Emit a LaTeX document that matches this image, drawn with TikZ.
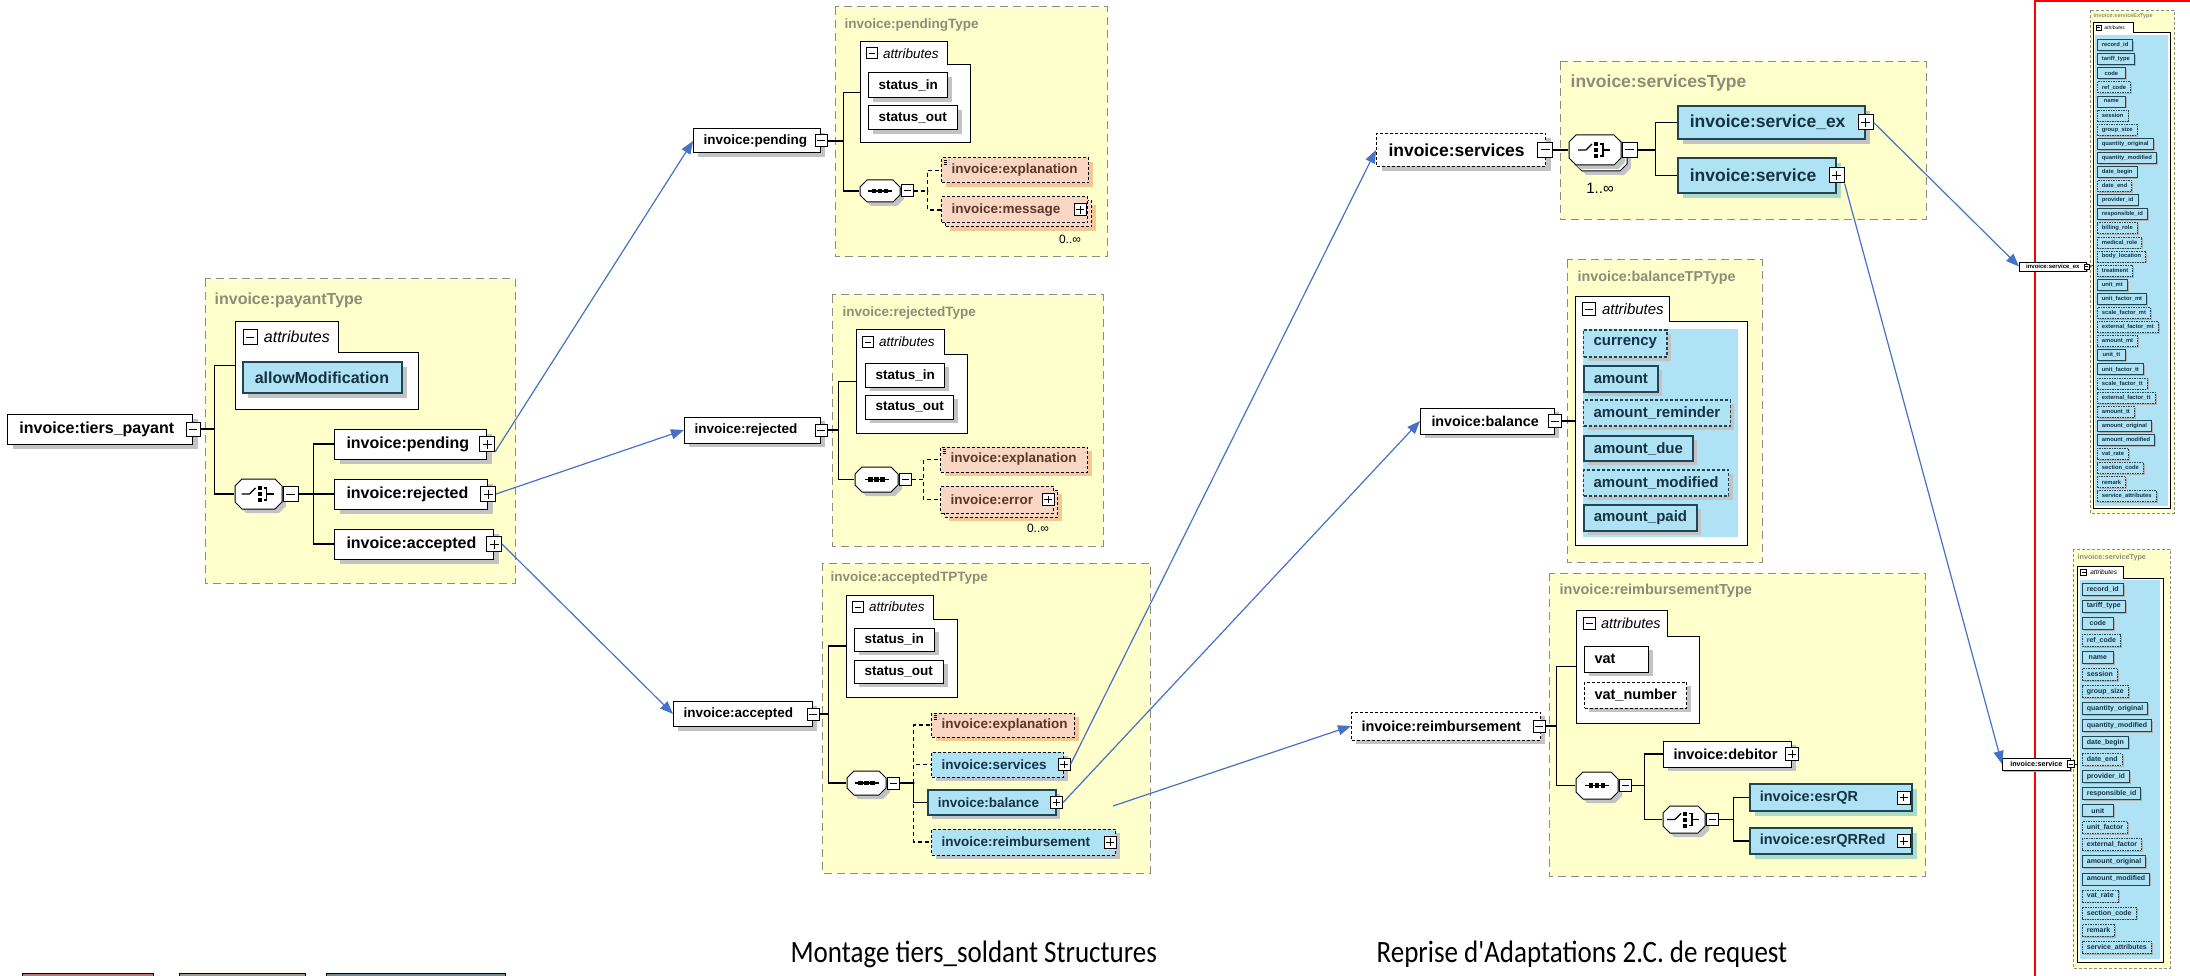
\documentclass[tikz,border=0pt]{standalone}
\usepackage{fontspec}
\setmainfont{Liberation Sans}
\newfontfamily\capfont{Carlito}
\usetikzlibrary{arrows.meta,shadows}

\definecolor{panelfill}{RGB}{255,255,204}
\definecolor{panelline}{RGB}{140,140,130}
\definecolor{paneltext}{RGB}{140,140,120}
\definecolor{elblue}{RGB}{174,226,244}
\definecolor{blueline}{RGB}{30,70,85}
\definecolor{bluetext}{RGB}{20,50,65}
\definecolor{elsalmon}{RGB}{250,214,196}
\definecolor{salmonshadow}{RGB}{244,200,150}
\definecolor{salmontext}{RGB}{90,55,40}
\definecolor{greenshadow}{RGB}{170,220,200}
\definecolor{shadowgray}{RGB}{195,195,195}
\definecolor{linkblue}{RGB}{68,114,196}

\newcommand{\fs}[1]{\fontsize{#1}{#1}\selectfont}
% attribute folder: name, x1, y1, tab x, tab y, x2, y2, font size, minus size
\newcommand{\attrfolder}[9]{%
  \draw[fill=white, line width=1pt] (#2,#3) -- (#4,#3) -- (#4,#5) -- (#6,#5) -- (#6,#7) -- (#2,#7) -- cycle;
  \node[pmminus=#9pt, anchor=west] (#1m) at ({#2+0.55*#9},{(#3+#5)/2}) {};
  \node[anchor=west, inner sep=0pt, font=\itshape\fs{#8}] (#1t) at ([xshift={0.4*#9pt}]#1m.east) {attributes};
  \coordinate (#1) at (#2,{(#3+#7)/2});
}
% compositor octagon: name, x, y, width, height, symbol
\newcommand{\compo}[6]{%
  \draw[fill=white, line width=1pt, shd=4pt] ({#2-#4/2+7},{#3-#5/2}) -- ({#2+#4/2-7},{#3-#5/2})
    -- ({#2+#4/2},{#3-#5/2+7}) -- ({#2+#4/2},{#3+#5/2-7}) -- ({#2+#4/2-7},{#3+#5/2})
    -- ({#2-#4/2+7},{#3+#5/2}) -- ({#2-#4/2},{#3+#5/2-7}) -- ({#2-#4/2},{#3-#5/2+7}) -- cycle;
  \node[minimum width=#4pt, minimum height=#5pt, inner sep=0pt] (#1) at (#2,#3) {};
  \begin{scope}[shift={(#2,#3)}] #6 \end{scope}
}
\newcommand{\symseq}{%
  \draw[line width=1.2pt] (-12,0) -- (12,0);
  \foreach \d in {-6,0,6} \fill ({\d-2.2},-2.2) rectangle ({\d+2.2},2.2);
}
\newcommand{\symchoice}{%
  \draw[line width=1.2pt] (-17,0) -- (-9,0) -- (-3,-6);
  \foreach \d in {-6,0,6} \fill (-1,{\d-2}) rectangle (3,{\d+2});
  \draw[line width=1.2pt] (5,-6) -- (8,-6) -- (8,6) -- (5,6);
  \draw[line width=1.2pt] (8,0) -- (15,0);
}

\begin{document}
\begin{tikzpicture}[x=1pt, y=-1pt, line width=1.3pt,
  panel/.style={draw=panelline, fill=panelfill, dash pattern=on 8pt off 5pt, line width=1pt},
  smallpanel/.style={panel, dash pattern=on 3pt off 2pt, line width=0.6pt},
  ptitle/.style={anchor=west, inner sep=0pt, text=paneltext, font=\bfseries\fs{#1}},
  el/.style={draw, fill=white, anchor=west, line width=1pt, inner ysep=0pt, inner xsep=10pt, align=left},
  big/.style={inner xsep=12pt},
  f/.style={font=\bfseries\fs{#1}},
  shd/.style={drop shadow={shadow xshift=#1, shadow yshift=-#1, fill=shadowgray, opacity=1}},
  shd/.default=5pt,
  shdo/.style={drop shadow={shadow xshift=#1, shadow yshift=-#1, fill=salmonshadow, opacity=1}},
  shdo/.default=5pt,
  shdg/.style={drop shadow={shadow xshift=#1, shadow yshift=-#1, fill=greenshadow, opacity=1}},
  shdg/.default=5pt,
  optel/.style={dash pattern=on 3pt off 2pt},
  optline/.style={dash pattern=on 4pt off 3pt},
  blueel/.style={fill=elblue, draw=blueline, text=bluetext, line width=1.6pt},
  salmonel/.style={fill=elsalmon, text=salmontext, optel},
  simpleicon/.style={path picture={
    \foreach \k in {2,4,6}
      \draw[line width=0.6pt] ([shift={(2pt,-\k pt)}]path picture bounding box.north west) -- ++(5pt,0);}},
  att/.style={el},
  m0/.style={},
  m1/.style={dash pattern=on 1.5pt off 1pt},
  tinyatt/.style={el, fill=elblue, draw=blueline, text=bluetext, line width=0.7pt, inner xsep=4.5pt,
    drop shadow={shadow xshift=1.5pt, shadow yshift=-1.5pt, fill=black!30, opacity=1}},
  pmminus/.style={draw, fill=white, line width=1pt, inner sep=0pt, minimum size=#1,
    path picture={\draw[line width=1pt] ([xshift={0.2*#1}]path picture bounding box.west) -- ([xshift={-0.2*#1}]path picture bounding box.east);}},
  pmminus/.default=13pt,
  pmplus/.style={draw, fill=white, line width=1pt, inner sep=0pt, minimum size=#1,
    path picture={\draw[line width=1pt] ([xshift={0.2*#1}]path picture bounding box.west) -- ([xshift={-0.2*#1}]path picture bounding box.east);
      \draw[line width=1pt] ([yshift={-0.2*#1}]path picture bounding box.north) -- ([yshift={0.2*#1}]path picture bounding box.south);}},
  pmplus/.default=13pt,
  link/.style={linkblue, line width=1.2pt, -{Triangle[length=13pt, width=10pt]}}]

\useasboundingbox (0,0) rectangle (2190,976);

% ---- payant type
\draw[panel] (205,279) rectangle (515,583);
\node[ptitle=16] (payT) at (214,300) {invoice:payantType};
\node[el, big, shd, f=16, text width=161pt, minimum height=30pt] (tiers) at (7,429) {invoice:tiers\_payant};
\node[pmminus=14pt] (tiersX) at (tiers.east) {};
\attrfolder{payA}{235}{322}{338}{352}{418}{409}{16}{14}
\node[el, big, blueel, shd, f=16, text width=135pt, minimum height=31pt] (allowMod) at (242,377.5) {allowModification};
\compo{payC}{258.5}{494}{47}{30}{\symchoice}
\node[pmminus=15pt, anchor=west] (payCX) at (payC.east) {};
\node[el, big, shd, f=16, text width=128pt, minimum height=30pt] (payPend) at (334,444) {invoice:pending};
\node[pmplus=15pt] (payPendX) at (payPend.east) {};
\node[el, big, shd, f=16, text width=129pt, minimum height=30pt] (payRej) at (334,494) {invoice:rejected};
\node[pmplus=15pt] (payRejX) at (payRej.east) {};
\node[el, big, shd, f=16, text width=135pt, minimum height=30pt] (payAcc) at (334,544) {invoice:accepted};
\node[pmplus=15pt] (payAccX) at (payAcc.east) {};
\draw (tiersX.east) -- ++(14,0) |- (payA);
\draw (tiersX.east) -- ++(14,0) |- (payC.west);
\draw (payCX.east) -- ++(15,0) |- (payPend.west);
\draw (payCX.east) -- ++(15,0) |- (payRej.west);
\draw (payCX.east) -- ++(15,0) |- (payAcc.west);

% ---- pending type
\draw[panel] (835,7) rectangle (1107,257);
\node[ptitle=13.5] (pendT) at (844,25) {invoice:pendingType};
\node[el, shd=4pt, f=13.5, text width=107pt, minimum height=24pt] (pend) at (693,141) {invoice:pending};
\node[pmminus=12pt] (pendX) at (pend.east) {};
\attrfolder{pendA}{860}{42}{947}{65}{970}{143}{13.5}{11}
\node[el, shd=4pt, f=13.5, text width=59pt, minimum height=25pt] (pendIn) at (868,85.5) {status\_in};
\node[el, shd=4pt, f=13.5, text width=69pt, minimum height=24pt] (pendOut) at (868,118) {status\_out};
\compo{pendS}{880}{191}{40}{22}{\symseq}
\node[pmminus=12pt, anchor=west] (pendSX) at (pendS.east) {};
\node[el, salmonel, simpleicon, shdo=4pt, f=13.5, text width=127pt, minimum height=25pt] (pendExp) at (941,170.5) {invoice:explanation};
\node[el, salmonel, shdo=4pt, minimum width=146pt, minimum height=26pt] (pendMsgB) at (945,214) {};
\node[el, salmonel, f=13.5, text width=126pt, minimum height=26pt] (pendMsg) at (941,210) {invoice:message};
\node[pmplus=12pt] (pendMsgX) at ([xshift=-8pt]pendMsg.east) {};
\node[font=\fs{12}, inner sep=0pt] (pendOcc) at (1070,239) {0..∞};
\draw (pendX.east) -- ++(16,0) |- (pendA);
\draw (pendX.east) -- ++(16,0) |- (pendS.west);
\draw[optline] (pendSX.east) -- ++(14,0) |- (pendExp.west);
\draw[optline] (pendSX.east) -- ++(14,0) |- (pendMsg.west);

% ---- rejected type
\draw[panel] (832,295) rectangle (1103,546);
\node[ptitle=13.5] (rejT) at (842,313) {invoice:rejectedType};
\node[el, shd=4pt, f=13.5, text width=116pt, minimum height=26pt] (rej) at (684,430) {invoice:rejected};
\node[pmminus=12pt] (rejX) at (rej.east) {};
\attrfolder{rejA}{856}{330}{944}{354}{967}{433}{13.5}{11}
\node[el, shd=4pt, f=13.5, text width=59pt, minimum height=24pt] (rejIn) at (865,375) {status\_in};
\node[el, shd=4pt, f=13.5, text width=68pt, minimum height=24pt] (rejOut) at (865,407) {status\_out};
\compo{rejS}{876.5}{479.5}{43}{25}{\symseq}
\node[pmminus=12pt, anchor=west] (rejSX) at (rejS.east) {};
\node[el, salmonel, simpleicon, shdo=4pt, f=13.5, text width=127pt, minimum height=25pt] (rejExp) at (940,459.5) {invoice:explanation};
\node[el, salmonel, shdo=4pt, minimum width=113pt, minimum height=27pt] (rejErrB) at (944,503.5) {};
\node[el, salmonel, f=13.5, text width=93pt, minimum height=27pt] (rejErr) at (940,499.5) {invoice:error};
\node[pmplus=12pt] (rejErrX) at ([xshift=-6pt]rejErr.east) {};
\node[font=\fs{12}, inner sep=0pt] (rejOcc) at (1038,528) {0..∞};
\draw (rejX.east) -- ++(11,0) |- (rejA);
\draw (rejX.east) -- ++(11,0) |- (rejS.west);
\draw[optline] (rejSX.east) -- ++(12,0) |- (rejExp.west);
\draw[optline] (rejSX.east) -- ++(12,0) |- (rejErr.west);

% ---- accepted type
\draw[panel] (822,563) rectangle (1150,873);
\node[ptitle=13.5] (accT) at (830,578) {invoice:acceptedTPType};
\node[el, shd=4pt, f=13.5, text width=119pt, minimum height=25pt] (acc) at (673,714) {invoice:accepted};
\node[pmminus=12pt] (accX) at (acc.east) {};
\attrfolder{accA}{846}{595}{933}{619}{957}{697}{13.5}{11}
\node[el, shd=4pt, f=13.5, text width=60pt, minimum height=23pt] (accIn) at (854,639.5) {status\_in};
\node[el, shd=4pt, f=13.5, text width=69pt, minimum height=23pt] (accOut) at (854,671.5) {status\_out};
\compo{accS}{866.5}{783}{39}{24}{\symseq}
\node[pmminus=12pt, anchor=west] (accSX) at (accS.east) {};
\node[el, salmonel, simpleicon, shdo=4pt, f=13.5, text width=123pt, minimum height=24pt] (accExp) at (931,725) {invoice:explanation};
\node[el, blueel, optel, draw=black, line width=1pt, shd=4pt, f=13.5, text width=112pt, minimum height=25pt] (accSrv) at (931,764.5) {invoice:services};
\node[pmplus=12pt] (accSrvX) at (accSrv.east) {};
\node[el, blueel, shd=4pt, f=13.5, text width=108pt, minimum height=25pt] (accBal) at (927,802.5) {invoice:balance};
\node[pmplus=12pt] (accBalX) at (accBal.east) {};
\node[el, blueel, optel, draw=black, line width=1pt, shd=4pt, f=13.5, text width=164pt, minimum height=26pt] (accReimb) at (931,842) {invoice:reimbursement};
\node[pmplus=12pt] (accReimbX) at ([xshift=-6pt]accReimb.east) {};
\draw (accX.east) -- ++(9,0) |- (accA);
\draw (accX.east) -- ++(9,0) |- (accS.west);
\draw[optline] (accSX.east) -- ++(14,0) |- (accExp.west);
\draw[optline] (accSX.east) -- ++(14,0) |- (accSrv.west);
\draw[optline] (accSX.east) -- ++(14,0) |- (accReimb.west);
\draw (accSX.east) -- ++(14,0) |- (accBal.west);

% ---- services type
\draw[panel] (1560,62) rectangle (1926,220);
\node[ptitle=17.5] (srvT) at (1570,83) {invoice:servicesType};
\node[el, big, optel, shd, f=17.5, text width=145pt, minimum height=33pt] (srv) at (1376,150) {invoice:services};
\node[pmminus=15pt] (srvX) at ([xshift=-1pt]srv.east) {};
\compo{srvCB}{1601}{156}{52}{30}{}
\compo{srvC}{1595}{150}{52}{30}{\symchoice}
\node[pmminus=15pt, anchor=west] (srvCX) at (srvC.east) {};
\node[font=\fs{15}, inner sep=0pt] (srvOcc) at (1600,188) {1..∞};
\node[el, big, blueel, shd, f=17.5, text width=163pt, minimum height=33pt] (srvEx) at (1677,122.5) {invoice:service\_ex};
\node[pmplus=15pt] (srvExX) at (srvEx.east) {};
\node[el, big, blueel, shdg, f=17.5, text width=134pt, minimum height=35pt] (srvSv) at (1677,175.5) {invoice:service};
\node[pmplus=15pt] (srvSvX) at (srvSv.east) {};
\draw (srvX.east) -- (srvC.west);
\draw (srvCX.east) -- ++(18,0) |- (srvEx.west);
\draw (srvCX.east) -- ++(18,0) |- (srvSv.west);

% ---- balance type
\draw[panel] (1567,260) rectangle (1762,562);
\node[ptitle=14.3] (balT) at (1577,278) {invoice:balanceTPType};
\node[el, inner xsep=11pt, shd=4pt, f=14.3, text width=112pt, minimum height=26pt] (bal) at (1420,421) {invoice:balance};
\node[pmminus=13pt] (balX) at (bal.east) {};
\attrfolder{balA}{1575}{297}{1669}{322}{1747}{545}{15}{13}
\fill[elblue] (1583,329) rectangle (1738,537);
\node[att, blueel, line width=1.2pt, optel, shd=4pt, f=15, minimum height=27pt] (balCur) at (1583,343.5) {currency};
\node[att, blueel, shd=4pt, f=15, minimum height=26pt] (balAmt) at (1583,379) {amount};
\node[att, blueel, line width=1.2pt, optel, shd=4pt, f=15, minimum height=26pt] (balRem) at (1583,413) {amount\_reminder};
\node[att, blueel, shd=4pt, f=15, minimum height=25pt] (balDue) at (1583,448.5) {amount\_due};
\node[att, blueel, line width=1.2pt, optel, shd=4pt, f=15, minimum height=26pt] (balMod) at (1583,483) {amount\_modified};
\node[att, blueel, shd=4pt, f=15, minimum height=26pt] (balPaid) at (1583,518) {amount\_paid};
\draw (balX.east) -- (balA);

% ---- reimbursement type
\draw[panel] (1549,573) rectangle (1925,876);
\node[ptitle=14.5] (reimbT) at (1559,591) {invoice:reimbursementType};
\node[el, optel, shd=4pt, f=14.5, text width=169pt, minimum height=28pt] (reimb) at (1351,726) {invoice:reimbursement};
\node[pmminus=12pt] (reimbX) at ([xshift=-2pt]reimb.east) {};
\attrfolder{reimbA}{1576}{610}{1667}{636}{1699}{723}{14.5}{12}
\node[el, shd=4pt, f=14.5, text width=44pt, minimum height=26pt] (reimbVat) at (1584,659) {vat};
\node[el, optel, shd=4pt, f=14.5, text width=82pt, minimum height=26pt] (reimbVatNo) at (1584,695) {vat\_number};
\compo{reimbS}{1597}{785.5}{42}{27}{\symseq}
\node[pmminus=12pt, anchor=west] (reimbSX) at (reimbS.east) {};
\node[el, shd=4pt, f=14.5, text width=108pt, minimum height=26pt] (reimbDeb) at (1663,754) {invoice:debitor};
\node[pmplus=13pt] (reimbDebX) at (reimbDeb.east) {};
\compo{reimbC}{1684}{819.5}{42}{27}{\symchoice}
\node[pmminus=12pt, anchor=west] (reimbCX) at (reimbC.east) {};
\node[el, blueel, shdg, f=14.5, text width=142pt, minimum height=27pt] (esrQR) at (1749,797.5) {invoice:esrQR};
\node[pmplus=13pt] (esrQRX) at ([xshift=-9pt]esrQR.east) {};
\node[el, blueel, shdg, f=14.5, text width=142pt, minimum height=26pt] (esrQRRed) at (1749,841) {invoice:esrQRRed};
\node[pmplus=13pt] (esrQRRedX) at ([xshift=-9pt]esrQRRed.east) {};
\draw (reimbX.east) -- ++(11,0) |- (reimbA);
\draw (reimbX.east) -- ++(11,0) |- (reimbS.west);
\draw (reimbSX.east) -- ++(13,0) |- (reimbDeb.west);
\draw (reimbSX.east) -- ++(13,0) |- (reimbC.west);
\draw (reimbCX.east) -- ++(15,0) |- (esrQR.west);
\draw (reimbCX.east) -- ++(15,0) |- (esrQRRed.west);

% ---- right hand detail, service_ex and service
\draw[red, line width=2.5pt] (2035,1.25) rectangle (2210,1000);
\draw[smallpanel] (2090,10) rectangle (2174,513);
\node[ptitle=5.5] (sxT) at (2093,16) {invoice:serviceExType};
\node[el, inner xsep=0pt, line width=0.6pt, f=6, minimum width=67pt, minimum height=9pt, drop shadow={shadow xshift=1.5pt, shadow yshift=-1.5pt, fill=black!30, opacity=1}] (sxN) at (2019,266.5) {invoice:service\_ex};
\node[pmminus=5pt, line width=0.5pt] (sxNX) at (sxN.east) {};
\attrfolder{sxA}{2093}{23}{2133}{33}{2170}{508}{5}{5}
\fill[elblue] (2095,35) rectangle (2168,506);
\foreach \t/\o [count=\i] in {record\_id/0, tariff\_type/0, code/0, ref\_code/1, name/0, session/1, group\_size/1,
    quantity\_original/0, quantity\_modified/0, date\_begin/0, date\_end/1, provider\_id/0, responsible\_id/0,
    billing\_role/1, medical\_role/1, body\_location/1, treatment/1, unit\_mt/0, unit\_factor\_mt/0,
    scale\_factor\_mt/1, external\_factor\_mt/1, amount\_mt/1, unit\_tt/0, unit\_factor\_tt/0,
    scale\_factor\_tt/1, external\_factor\_tt/1, amount\_tt/1, amount\_original/0, amount\_modified/0,
    vat\_rate/1, section\_code/1, remark/1, service\_attributes/1}
  \node[tinyatt, m\o, f=5.8, minimum width=28pt, minimum height=11pt] (sx\i) at (2097,{45+14.1*(\i-1)}) {\t};
\draw[line width=0.6pt] (sxNX.east) -- (sxA);

\draw[smallpanel] (2073,549) rectangle (2170,968);
\node[ptitle=7.2] (svT) at (2077,558) {invoice:serviceType};
\node[el, inner xsep=0pt, line width=0.6pt, f=7.2, minimum width=68pt, minimum height=12pt, drop shadow={shadow xshift=1.5pt, shadow yshift=-1.5pt, fill=black!30, opacity=1}] (svN) at (2002,764) {invoice:service};
\node[pmminus=7pt, line width=0.5pt] (svNX) at (svN.east) {};
\attrfolder{svA}{2077}{566}{2123}{578}{2163}{962}{6.5}{6}
\fill[elblue] (2080,580) rectangle (2160,959);
\foreach \t/\o [count=\i] in {record\_id/0, tariff\_type/0, code/0, ref\_code/1, name/0, session/1, group\_size/1,
    quantity\_original/0, quantity\_modified/0, date\_begin/0, date\_end/1, provider\_id/0, responsible\_id/0,
    unit/0, unit\_factor/1, external\_factor/1, amount\_original/0, amount\_modified/0,
    vat\_rate/1, section\_code/1, remark/1, service\_attributes/1}
  \node[tinyatt, m\o, f=7, minimum width=31pt, minimum height=12pt] (sv\i) at (2082,{589+17.05*(\i-1)}) {\t};
\draw[line width=0.6pt] (svNX.east) -- (svA);

% ---- links between the views
\coordinate (reimbFrom) at (1113,806);
\draw[link] (payPendX.south east) -- (pend.west);
\draw[link] (payRejX.east) -- (rej.west);
\draw[link] (payAccX.east) -- (acc.west);
\draw[link] (accSrvX.east) -- (srv.west);
\draw[link] (accBalX.east) -- (bal.west);
\draw[link] (reimbFrom) -- (reimb.west);
\draw[link] (srvExX.east) -- (sxN.west);
\draw[link] (srvSvX.south east) -- (svN.west);

% ---- bottom
\draw[line width=1pt, fill={rgb,255:red,190;green,120;blue,110}] (22,973) rectangle (153,985);
\draw[line width=1pt, fill={rgb,255:red,170;green,150;blue,135}] (179,973) rectangle (305,985);
\draw[line width=1pt, fill={rgb,255:red,110;green,140;blue,150}] (326,973) rectangle (505,985);
\node[anchor=base west, inner sep=0pt, font=\capfont\fs{27}] (capL) at (790,962) {\scalebox{1}[1.15]{Montage tiers\_soldant Structures}};
\node[anchor=base west, inner sep=0pt, font=\capfont\fs{27}] (capR) at (1376,962) {\scalebox{1}[1.15]{Reprise d'Adaptations 2.C. de request}};
\end{tikzpicture}
\end{document}
